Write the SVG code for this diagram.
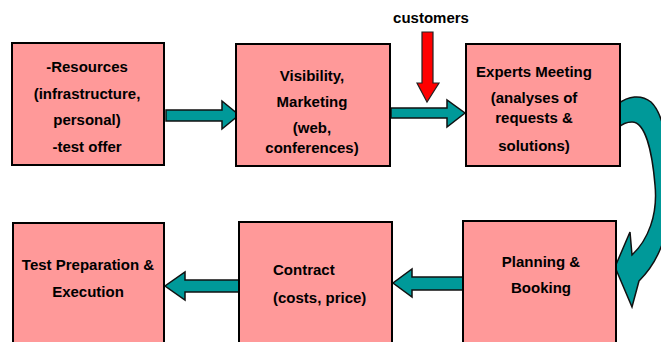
<svg xmlns="http://www.w3.org/2000/svg" width="661" height="342" viewBox="0 0 661 342">
<style>
.box{fill:#FF9999;stroke:#000;stroke-width:2}
.t{font-family:"Liberation Sans",Arial,sans-serif;font-weight:bold;font-size:15px;fill:#000}
.c{text-anchor:middle}
.arr{fill:#009999;stroke:#111;stroke-width:1.5;stroke-linejoin:miter}
.red{fill:#FF0000;stroke:#222;stroke-width:1.2}
</style>
<rect width="661" height="342" fill="#fff"/>
<g id="connectors">
<polygon class="arr" points="166,110 222,110 222,101 239,115 222,129 222,121 166,121"/>
<polygon class="arr" points="391,108 447,108 447,100 465,113 447,127 447,118 391,118"/>
<polygon class="arr" points="463,277 412,277 412,269 393,283 412,297 412,290 463,290"/>
<polygon class="arr" points="239,280 185,280 185,272 165,286 185,300 185,292 239,292"/>
<path class="arr" d="M618,104 C628,96 641,94 651,102 C668,118 671,170 669,210 C667,240 656,264 639,281 L632,307 L615,267 L630,232 L632,255 C648,240 658,215 655,185 C652,150 645,122 632,122 C626,122 621,125 618,128 Z"/>
<polygon class="red" points="422,32 433,32 433,83 439,83 427,102 417,83 422,83"/>
</g>
<g id="customers"><text class="t c" x="431" y="23">customers</text></g>
<g id="resources">
<rect class="box" x="12" y="43" width="152" height="122"/>
<text class="t c" x="87" y="72">-Resources</text>
<text class="t c" x="87" y="99">(infrastructure,</text>
<text class="t c" x="87" y="125">personal)</text>
<text class="t c" x="87" y="152">-test offer</text>
</g>
<g id="visibility">
<rect class="box" x="236" y="44" width="154" height="122"/>
<text class="t c" x="312" y="81">Visibility,</text>
<text class="t c" x="312" y="107">Marketing</text>
<text class="t c" x="312" y="133">(web,</text>
<text class="t c" x="312" y="153">conferences)</text>
</g>
<g id="experts">
<rect class="box" x="466" y="44" width="154" height="122"/>
<text class="t c" x="534" y="77">Experts Meeting</text>
<text class="t c" x="534" y="103">(analyses of</text>
<text class="t c" x="534" y="123">requests &amp;</text>
<text class="t c" x="534" y="151">solutions)</text>
</g>
<g id="planning">
<rect class="box" x="463" y="221" width="153" height="122"/>
<text class="t c" x="541" y="267">Planning &amp;</text>
<text class="t c" x="541" y="293">Booking</text>
</g>
<g id="contract">
<rect class="box" x="239" y="222" width="153" height="121"/>
<text class="t" x="273" y="275">Contract</text>
<text class="t" x="273" y="303">(costs, price)</text>
</g>
<g id="testprep">
<rect class="box" x="13" y="223" width="151" height="121"/>
<text class="t c" x="88" y="270">Test Preparation &amp;</text>
<text class="t c" x="88" y="297">Execution</text>
</g>
</svg>
